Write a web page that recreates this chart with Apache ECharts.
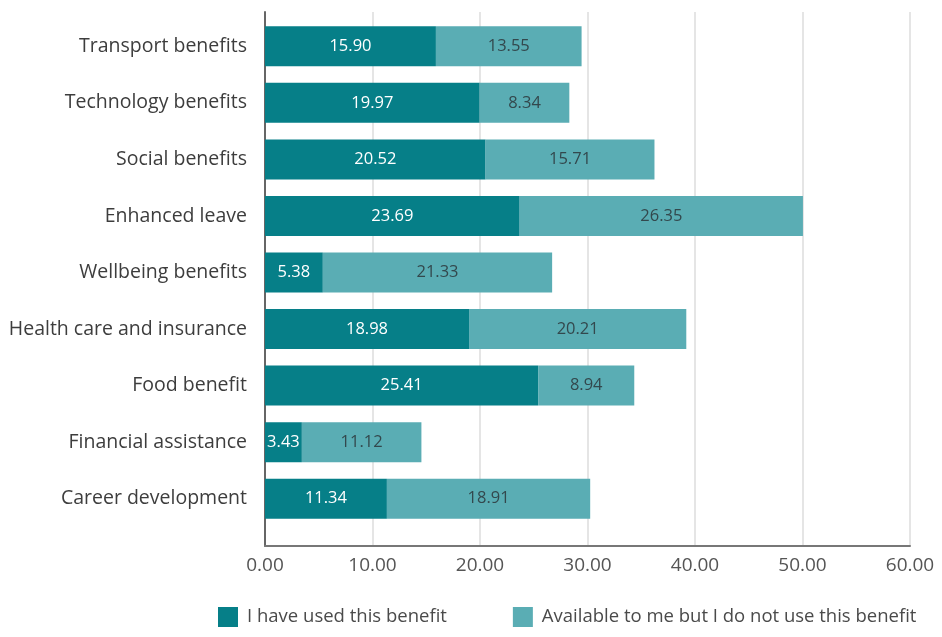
<!DOCTYPE html>
<html>
<head>
<meta charset="utf-8">
<script src="https://cdn.jsdelivr.net/npm/echarts@6/dist/echarts.min.js"></script>
<style>
  html, body { margin: 0; padding: 0; background: #fff; }
  #chart { width: 942px; height: 637px; }
</style>
</head>
<body>
<div id="chart"></div>
<script>
// Benefit categories, listed top to bottom
const categories = [
  'Transport benefits',
  'Technology benefits',
  'Social benefits',
  'Enhanced leave',
  'Wellbeing benefits',
  'Health care and insurance',
  'Food benefit',
  'Financial assistance',
  'Career development'
];
const usedValues = [15.90, 19.97, 20.52, 23.69, 5.38, 18.98, 25.41, 3.43, 11.34];
const availableValues = [13.55, 8.34, 15.71, 26.35, 21.33, 20.21, 8.94, 11.12, 18.91];
const seriesNames = ['I have used this benefit', 'Available to me but I do not use this benefit'];
const xMin = 0, xMax = 60, xStep = 10;

const FONT = 'Open Sans';
const DARK = '#067f88';
const LIGHT = '#5aadb4';

const chart = echarts.init(document.getElementById('chart'));

const gridLeft = 265, gridRight = 32;

chart.setOption({
  animation: false,
  textStyle: { fontFamily: FONT },
  grid: [
    // bars
    { left: gridLeft, right: gridRight, top: 18, height: 509 },
    // frame: axis lines and vertical gridlines
    { left: gridLeft, right: gridRight, top: 12, height: 534 }
  ],
  legend: {
    data: seriesNames,
    bottom: 5,
    left: 213,
    itemWidth: 20,
    itemHeight: 20,
    itemGap: 66,
    icon: 'rect',
    textStyle: { fontFamily: FONT, fontSize: 18.5, color: '#4a4a4a', padding: [0, 0, 0, 4] }
  },
  xAxis: [
    {
      gridIndex: 0, type: 'value', min: xMin, max: xMax, interval: xStep,
      show: false
    },
    {
      gridIndex: 1, type: 'value', min: xMin, max: xMax, interval: xStep,
      axisLine: { show: true, lineStyle: { color: '#777', width: 2 } },
      axisTick: { show: false },
      splitLine: { show: true, lineStyle: { color: '#dcdcdc', width: 1.5 } },
      axisLabel: {
        margin: 10,
        fontFamily: FONT, fontSize: 19, color: '#555',
        formatter: v => v.toFixed(2)
      }
    }
  ],
  yAxis: [
    {
      gridIndex: 0, type: 'category', data: categories, inverse: true,
      axisLine: { show: false },
      axisTick: { show: false },
      axisLabel: { margin: 18, fontFamily: FONT, fontSize: 19.5, color: '#3d3d3d' }
    },
    {
      gridIndex: 1, type: 'category', data: [], inverse: true,
      axisLine: { show: true, onZero: false, lineStyle: { color: '#666', width: 2 } },
      axisTick: { show: false },
      axisLabel: { show: false }
    }
  ],
  series: [
    {
      name: seriesNames[0],
      type: 'bar', stack: 'total', xAxisIndex: 0, yAxisIndex: 0,
      barWidth: 40,
      data: usedValues,
      itemStyle: { color: DARK },
      label: {
        show: true, position: 'inside',
        fontFamily: FONT, fontSize: 16.5, color: '#ffffff',
        formatter: p => p.value.toFixed(2)
      }
    },
    {
      name: seriesNames[1],
      type: 'bar', stack: 'total', xAxisIndex: 0, yAxisIndex: 0,
      barWidth: 40,
      data: availableValues,
      itemStyle: { color: LIGHT },
      label: {
        show: true, position: 'inside',
        fontFamily: FONT, fontSize: 16.5, color: '#33484d',
        formatter: p => p.value.toFixed(2)
      }
    }
  ]
});
</script>
</body>
</html>
